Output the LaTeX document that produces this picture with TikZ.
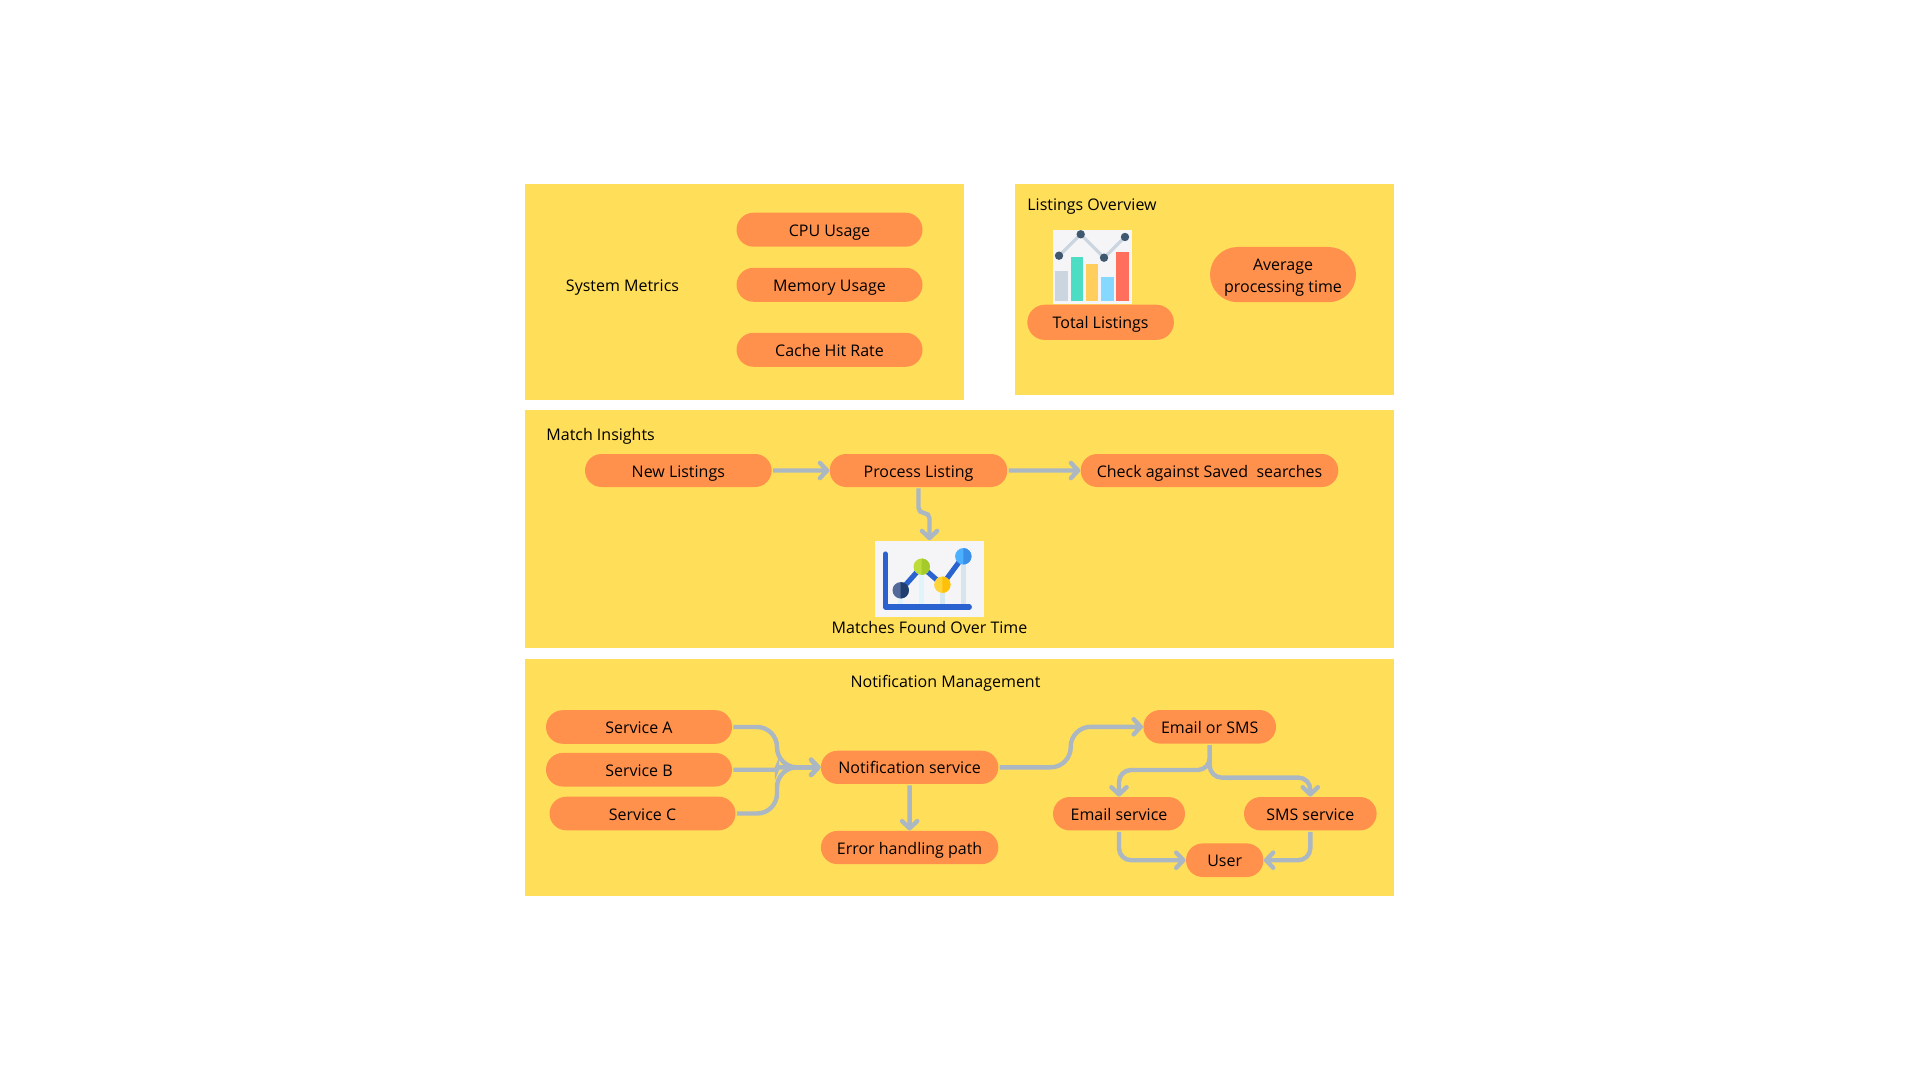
\documentclass[tikz,border=0pt]{standalone}
\usepackage{fontspec}
\setmainfont{Open Sans}
\usetikzlibrary{arrows.meta, shapes.misc}

\definecolor{panelyellow}{HTML}{FFDE59}
\definecolor{pillorange}{HTML}{FF914D}
\definecolor{flowgrey}{HTML}{ABB8C3}
\definecolor{iconpaper}{HTML}{F5F5F7}
\definecolor{axisblue}{HTML}{2A62D0}
\definecolor{trendgrey}{HTML}{CBD5E0}

\tikzset{
  panel/.style={fill=panelyellow},
  pillbase/.style={rounded rectangle, fill=pillorange, inner sep=0pt, align=center, minimum height=17pt},
  pill/.style={pillbase, text height=6.6pt, text depth=0pt},
  caption/.style={inner sep=0pt, anchor=center, text height=6.6pt, text depth=0pt},
  iconbg/.style={fill=iconpaper, inner sep=0pt},
  flow/.style={draw=flowgrey, line width=2.2pt, shorten <=0.5pt, -{Straight Barb[length=3.6pt,width=7.6pt,round]}},
}

\begin{document}
\begin{tikzpicture}[x=0.5pt, y=-0.5pt, font=\fontsize{8}{11.2}\selectfont]
\useasboundingbox (0,0) rectangle (1920,1080);

% panels
\fill [panel] (525,184) rectangle (964,400);
\fill [panel] (1014.5,184) rectangle (1394,395);
\fill [panel] (525,409.5) rectangle (1394,648);
\fill [panel] (525,658.5) rectangle (1394,896);

% system metrics
\node (sysmetrics) [caption] at (622.5,285) {System Metrics};
\node (cpu) [pill, minimum width=93pt] at (829.5,229.7) {CPU Usage};
\node (memory) [pill, minimum width=93pt] at (829.5,284.8) {Memory Usage};
\node (cache) [pill, minimum width=93pt] at (829.5,349.8) {Cache Hit Rate};

% listings overview
\node (listhead) [caption, anchor=west] at (1027,204) {Listings Overview};
\node (chartA) [iconbg, minimum width=39.3pt, minimum height=37pt] at (1092.3,267) {};
\draw [line width=1.6pt, trendgrey] (1059,255.7) -- (1080.7,234.3) -- (1104,257.7) -- (1125,237);
\foreach \x/\h/\c in {1055.3/271/CBD5E0, 1070.7/256.7/4DDCC4, 1086/263.7/FFCE5C, 1101.3/277.3/85D8FF, 1116.3/251.7/FF6F5B}
  {\definecolor{barfill}{HTML}{\c}
   \fill [barfill] (\x,\h) rectangle (\x+12.2,300.7);}
\foreach \x/\y in {1059/255.7, 1080.7/234.3, 1104/257.7, 1125/237}
  \fill [fill={rgb, 255:red, 63; green, 88; blue, 112 }] (\x,\y) circle (2.1pt);
\node (total) [pill, minimum width=73.3pt, minimum height=17.6pt] at (1100.6,322.3) {Total Listings};
\node (avgtime) [pillbase, minimum width=73pt, minimum height=27.6pt] at (1283,274.6) {\rule{0pt}{8.6pt}Average\\processing time};

% match insights
\node (matchhead) [caption, anchor=west] at (546,434.3) {Match Insights};
\node (newlist) [pill, minimum width=93.3pt, minimum height=16.5pt] at (678.3,470.5) {New Listings};
\node (process) [pill, minimum width=88.8pt, minimum height=16.5pt] at (918.5,470.5) {Process Listing};
\node (check) [pill, minimum width=128.8pt, minimum height=16.5pt] at (1209.5,470.5) {Check against Saved\ \ searches};
\node (chartB) [iconbg, minimum width=54.5pt, minimum height=38.2pt] at (929.5,578.9) {};
\coordinate (bendB) at (924,513);
\foreach \x/\y/\c in {900.7/590.3/E4F3FA, 921.7/566.7/E0F5FB, 942.3/584.7/D6E9F0, 963.3/556.3/D6E5EE}
  {\definecolor{stemfill}{HTML}{\c}
   \fill [stemfill] (\x-2.7,\y) rectangle (\x+2.7,605);}
\draw [axisblue, line width=2.6pt, line cap=round, line join=round] (885.3,554) -- (885.3,607) -- (969.3,607);
\draw [axisblue, line width=2.6pt] (900.7,590.3) -- (921.7,566.7) -- (942.3,584.7) -- (963.3,556.3);
\foreach \x/\y/\l/\r in {900.7/590.3/52699A/1F3D6E, 921.7/566.7/BDDB3B/A4CB2A, 942.3/584.7/FFD43B/FFC107, 963.3/556.3/4CB0FF/3A8FE8}
  {\definecolor{dotleft}{HTML}{\l}\definecolor{dotright}{HTML}{\r}
   \fill [dotleft] (\x,\y) circle (4.1pt);
   \fill [dotright] (\x,\y) ++(0pt,4.1pt) arc [start angle=90, end angle=-90, radius=4.1pt] -- cycle;}
\node (matches) [caption] at (929.5,627) {Matches Found Over Time};

\draw [flow] (newlist) -- (process);
\draw [flow] (process) -- (check);
\draw [flow, rounded corners=2.7pt] (process.south) -- (process.south |- bendB) -- (chartB.north |- bendB) -- (chartB.north);

% notification management
\node (nothead) [caption] at (945.5,681) {Notification Management};
\node (svcA) [pill, minimum width=93pt, minimum height=16.8pt] at (639,727) {Service A};
\node (svcB) [pill, minimum width=93pt, minimum height=16.8pt] at (639,769.7) {Service B};
\node (svcC) [pill, minimum width=93pt, minimum height=16.8pt] at (642.5,813.5) {Service C};
\node (notif) [pill, minimum width=88.7pt, minimum height=16.6pt] at (909.6,767.3) {Notification service};
\node (errpath) [pill, minimum width=88.7pt, minimum height=16.6pt] at (909.6,847.5) {Error handling path};
\node (mail) [pill, minimum width=66.3pt, minimum height=16.8pt] at (1209.7,726.8) {Email or SMS};
\node (emailsvc) [pill, minimum width=66pt, minimum height=16.7pt] at (1119,813.7) {Email service};
\node (smssvc) [pill, minimum width=66.3pt, minimum height=16.7pt] at (1310.3,813.7) {SMS service};
\node (user) [pill, minimum width=38.7pt, minimum height=16.8pt] at (1224.7,860.2) {User};
\coordinate (merge) at (777,767.3);
\coordinate (bendA) at (1070.7,748);

\draw [flow, rounded corners=10pt] (svcA.east) -| (merge) -- (notif.west);
\draw [flow, rounded corners=1pt] (svcB.east) -| (merge) -- (notif.west);
\draw [flow, rounded corners=10pt] (svcC.east) -| (merge) -- (notif.west);
\draw [flow] (notif) -- (errpath);
\draw [flow, rounded corners=10pt] (notif.east) -- (bendA |- notif.east) -- (bendA |- mail.west) -- (mail.west);
\draw [flow, rounded corners=6pt] (mail.south) -- ++(0,26) -| (emailsvc.north);
\draw [flow, rounded corners=6pt] (mail.south) -- ++(0,33.6) -| (smssvc.north);
\draw [flow, rounded corners=6pt] (emailsvc.south) |- (user.west);
\draw [flow, rounded corners=6pt] (smssvc.south) |- (user.east);
\end{tikzpicture}
\end{document}
